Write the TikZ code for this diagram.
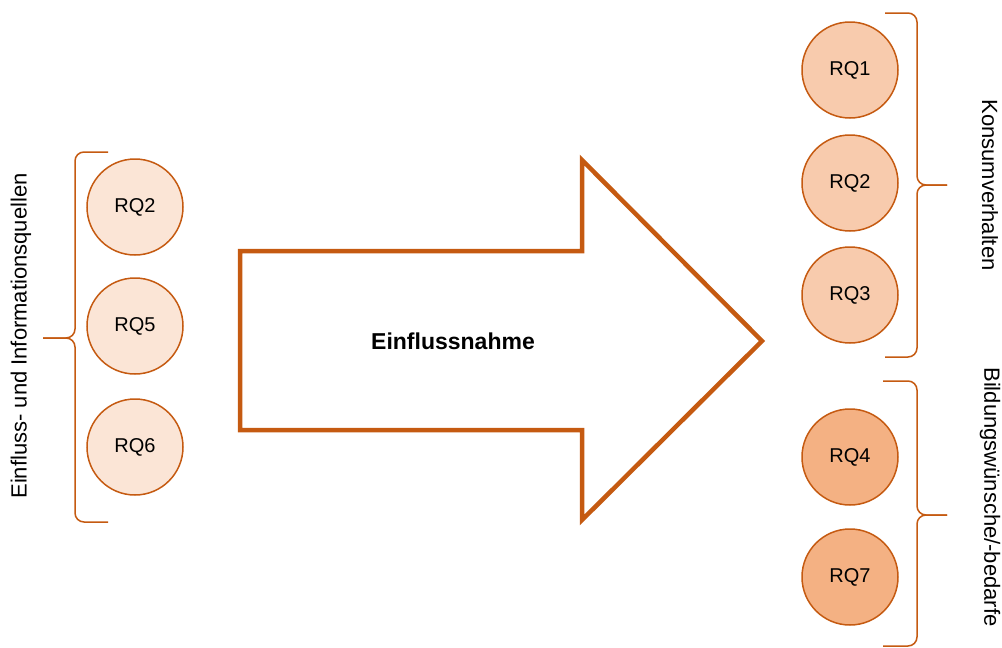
\documentclass[tikz,border=0pt]{standalone}
\usepackage{fontspec}
\setmainfont{Liberation Sans}
\definecolor{rqline}{HTML}{C55A11}
\definecolor{rqlight}{HTML}{FBE5D6}
\definecolor{rqmid}{HTML}{F8CBAD}
\definecolor{rqdark}{HTML}{F4B183}
\tikzset{
  rq/.style={circle, draw=rqline, line width=1.5pt, minimum size=96pt, inner sep=0pt,
    font=\fontsize{20}{24}\selectfont},
  bracket/.style={draw=rqline, line width=1.5pt, rounded corners=9pt},
  sidelabel/.style={font=\fontsize{22}{26}\selectfont}
}
\begin{document}
\begin{tikzpicture}[x=1pt,y=-1pt]
    \useasboundingbox (0,0) rectangle (1002,648);

    % arrow
    \draw[rqline, line width=4.5pt, line join=miter]
      (240,251) -- (582,251) -- (582,160) -- (762,341) -- (582,520)
      -- (582,430) -- (240,430) -- cycle;
    \node[font=\bfseries\fontsize{23}{27}\selectfont] (infl) at (453,341) {Einflussnahme};

    % left column
    \foreach \n/\y in {2/207,5/326,6/447} {
      \node[rq, fill=rqlight] (l\n) at (135,\y) {RQ\n};
    }
    \draw[bracket] (108,152) -| (75,338) -- (43,338);
    \draw[bracket] (108,522) -| (75,338) -- (43,338);
    \node[sidelabel, rotate=90] (srcs) at (21,336) {Einfluss- und Informationsquellen};

    % right column
    \foreach \n/\y in {1/70,2/183,3/295} {
      \node[rq, fill=rqmid] (r\n) at (850,\y) {RQ\n};
    }
    \foreach \n/\y in {4/457,7/577} {
      \node[rq, fill=rqdark] (r\n) at (850,\y) {RQ\n};
    }
    \draw[bracket] (885,13) -| (917,185) -- (947,185);
    \draw[bracket] (885,357) -| (917,185) -- (947,185);
    \draw[bracket] (883,381) -| (917,515) -- (947,515);
    \draw[bracket] (883,646) -| (917,515) -- (947,515);
    \node[sidelabel, rotate=-90] (cons) at (990,185) {Konsumverhalten};
    \node[sidelabel, rotate=-90] (edu) at (990,497) {Bildungswünsche/-bedarfe};
\end{tikzpicture}
\end{document}
